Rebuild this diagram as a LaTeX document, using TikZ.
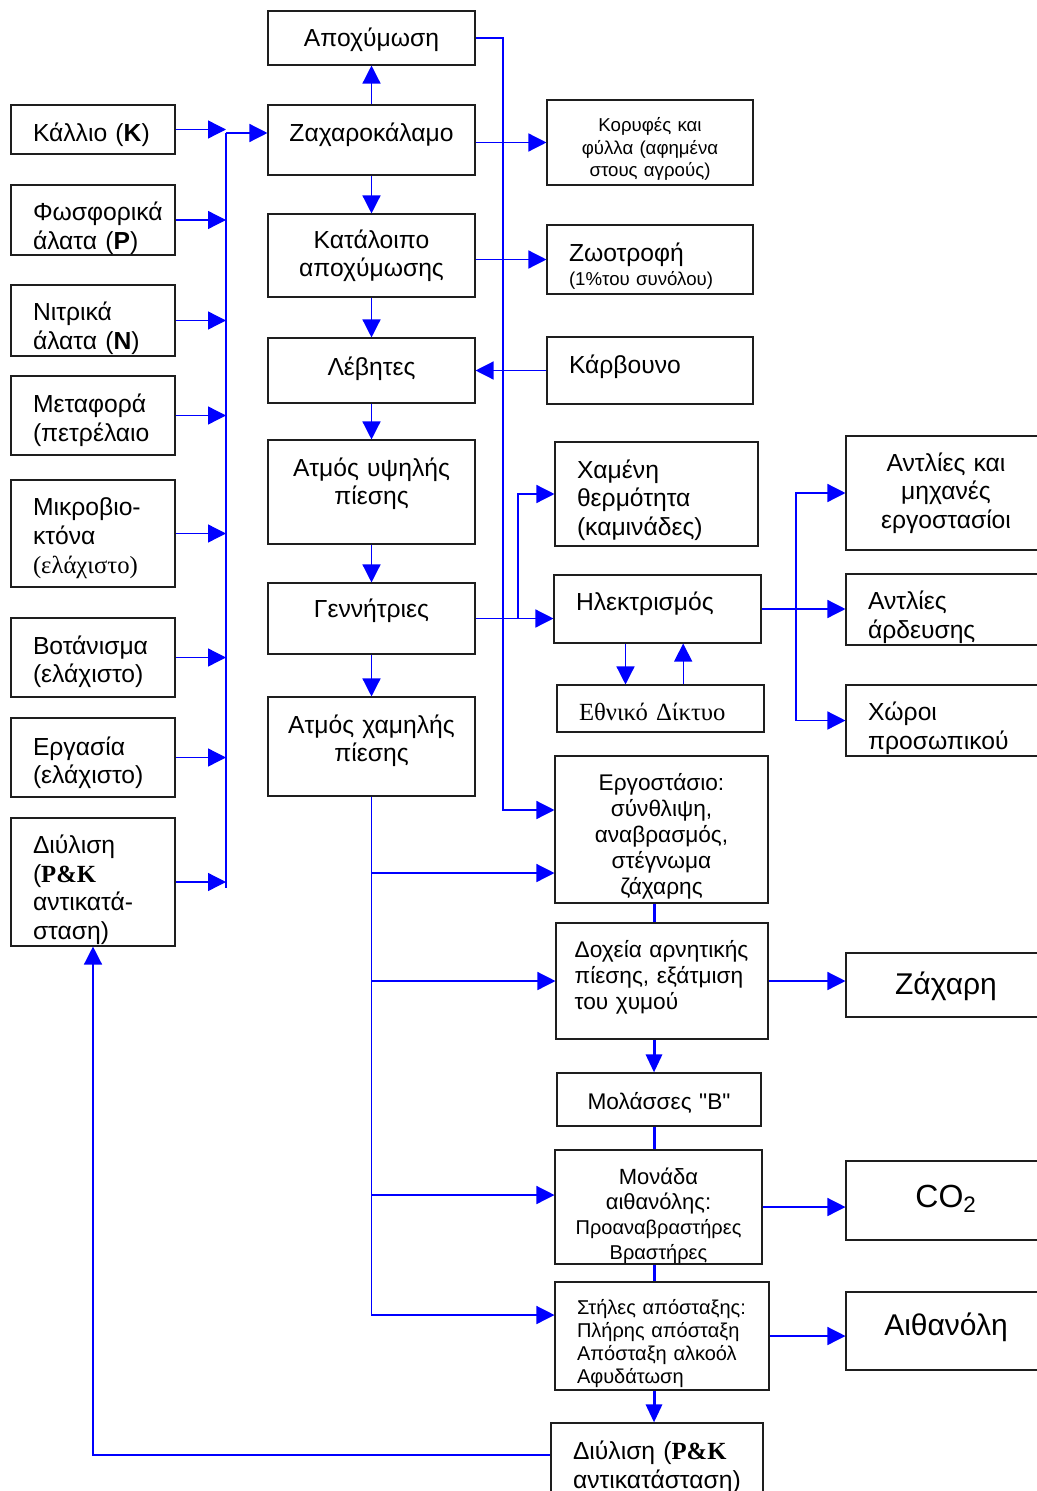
\documentclass[tikz,border=0pt]{standalone}
\usepackage{fontspec}
\setmainfont{Liberation Sans}[Ligatures=TeXOff]
\newfontfamily\tmsfont{Liberation Serif}
\usepackage{tikz}
\usetikzlibrary{arrows.meta, calc}
\definecolor{flowBlue}{RGB}{0, 0, 255}
\definecolor{boxEdge}{RGB}{30, 30, 30}
\newcommand{\fmain}{\fontsize{18.5}{21.5}\selectfont}
\newcommand{\fmid}{\fontsize{17}{19.5}\selectfont}
\newcommand{\fsmall}{\fontsize{15}{17.25}\selectfont}
\newcommand{\ftiny}{\fontsize{14}{17}\selectfont}
\newcommand{\fbig}{\fontsize{22.5}{26}\selectfont}

\begin{document}
\begin{tikzpicture}[x=0.75pt, y=-0.75pt,
    box/.style={draw=boxEdge, line width=0.8pt, inner ysep=2pt, font=\fmain},
    lbox/.style={box, align=left, inner xsep=16.5pt, minimum width=#1, text width=#1-33pt},
    cbox/.style={box, align=center, inner xsep=4pt, minimum width=#1, text width=#1-8pt},
    tdn/.style={text height=#1, text depth=0pt},
    tup/.style={text height=0pt, text depth=#1},
    wire/.style={flowBlue, line width=1pt},
    arr/.style={wire, -{Triangle[length=13.5pt, width=13.5pt]}},
    fat/.style={flowBlue, line width=2.25pt},
    fatarr/.style={fat, -{Triangle[length=13.5pt, width=12pt]}}]
    \useasboundingbox (0,0) rectangle (1036,1491);

    % Inputs (left column)
    \node[lbox=123pt, minimum height=36.75pt, tdn=18.75pt] (kallio) at (93,129.5) {Κάλλιο (\textbf{K})};
    \node[lbox=123pt, minimum height=52.5pt, tdn=1pt] (fosfor) at (93,220) {Φωσφορικά\\άλατα (\textbf{P})};
    \node[lbox=123pt, minimum height=53.25pt, tdn=0pt] (nitrika) at (93,320.5) {Νιτρικά\\άλατα (\textbf{N})};
    \node[lbox=123pt, minimum height=59.25pt, tup=4.2pt] (metafora) at (93,415.5) {Μεταφορά\\(πετρέλαιο};
    \node[lbox=123pt, minimum height=80.25pt, tup=26.7pt] (mikrob) at (93,533.5) {Μικροβιο-\\κτόνα\\{\tmsfont (ελάχιστο)}};
    \node[lbox=123pt, minimum height=59.25pt, tup=5.25pt] (votan) at (93,657.5) {Βοτάνισμα\\(ελάχιστο)};
    \node[lbox=123pt, minimum height=59.25pt, tup=3.75pt] (ergasia) at (93,757.5) {Εργασία\\(ελάχιστο)};
    \node[lbox=123pt, minimum height=96pt, tup=43pt] (diylL) at (93,882) {Διύλιση\\({\tmsfont\bfseries P\&K}\\αντικατά-\\σταση)};

    % Main line (middle column)
    \node[cbox=155.25pt, minimum height=40.5pt, tdn=13.5pt] (apox) at (371.5,38) {Αποχύμωση};
    \node[cbox=155.25pt, minimum height=52.5pt, tdn=3pt] (zax) at (371.5,140) {Ζαχαροκάλαμο};
    \node[cbox=155.25pt, minimum height=62.25pt, tup=10.8pt] (katal) at (371.5,255.5) {Κατάλοιπο\\αποχύμωσης};
    \node[cbox=155.25pt, minimum height=48.75pt, tdn=6.75pt] (levites) at (371.5,370.5) {Λέβητες};
    \node[cbox=155.25pt, minimum height=78pt, tup=24pt] (atmY) at (371.5,492) {Ατμός υψηλής\\πίεσης};
    \node[cbox=155.25pt, minimum height=53.25pt, tup=1.8pt] (genn) at (371.5,618.5) {Γεννήτριες};
    \node[cbox=155.25pt, minimum height=74.25pt, tup=19.8pt] (atmX) at (371.5,746.5) {Ατμός χαμηλής\\πίεσης};

    % By-products and energy
    \node[cbox=154.5pt, minimum height=63.75pt, font=\ftiny, tup=16.5pt] (koryfes) at (650,142.5) {Κορυφές και\\φύλλα (αφημένα\\στους αγρούς)};
    \node[lbox=154.5pt, minimum height=51.75pt, font=\fontsize{14}{18.5}\selectfont, tdn=2.25pt] (zootrofi) at (650,259.5) {{\fmain Ζωοτροφή}\\(1\%του συνόλου)};
    \node[lbox=154.5pt, minimum height=50.25pt, tdn=3.75pt] (karv) at (650,370.5) {Κάρβουνο};
    \node[lbox=152.25pt, minimum height=78pt, tup=24pt] (xamen) at (656.5,494) {Χαμένη\\θερμότητα\\(καμινάδες)};
    \node[lbox=155.25pt, minimum height=51pt, tdn=2.25pt] (ilektr) at (657.5,609) {Ηλεκτρισμός};
    \node[lbox=155.25pt, minimum height=35.25pt, font=\fmain\tmsfont, tdn=17.25pt] (ethniko) at (660.5,708.5) {Εθνικό Δίκτυο};

    % Sugar and ethanol line
    \node[cbox=159.75pt, minimum height=110.25pt, font=\fmid, tup=59.25pt] (ergost) at (661.5,829.5) {Εργοστάσιο:\\σύνθλιψη,\\αναβρασμός,\\στέγνωμα\\ζάχαρης};
    \node[lbox=159pt, inner xsep=14pt, text width=131pt, minimum height=87pt, font=\fmid, tup=36pt] (doxeia) at (662,981) {Δοχεία αρνητικής\\πίεσης, εξάτμιση\\του χυμού};
    \node[cbox=153pt, minimum height=39.75pt, font=\fmid, tdn=14.25pt] (molasses) at (659,1099.5) {Μολάσσες "B"};
    \node[cbox=155.25pt, minimum height=85.5pt, font=\fontsize{15}{18.75}\selectfont, tup=34.5pt] (monada) at (658.5,1207) {{\fontsize{16.5}{18.75}\selectfont Μονάδα\\αιθανόλης:}\\Προαναβραστήρες\\Βραστήρες};
    \node[lbox=160.5pt, minimum height=81pt, font=\fsmall, tup=32pt] (stiles) at (662,1336) {Στήλες απόσταξης:\\Πλήρης απόσταξη\\Απόσταξη αλκοόλ\\Αφυδάτωση};
    \node[lbox=159pt, minimum height=65.25pt, tup=10pt] (diylR) at (657,1466.5) {Διύλιση ({\tmsfont\bfseries P\&K}\\αντικατάσταση)};

    % Outputs (right column)
    \node[cbox=150pt, minimum height=85.5pt, tup=33pt] (antlMix) at (946,493) {Αντλίες και\\μηχανές\\εργοστασίοι};
    \node[lbox=150pt, minimum height=53.25pt, tdn=0pt] (antlArd) at (946,609.5) {Αντλίες\\άρδευσης};
    \node[lbox=150pt, minimum height=53.25pt, tdn=0pt] (xoroi) at (946,720.5) {Χώροι\\προσωπικού};
    \node[cbox=150pt, minimum height=48pt, font=\fbig, tdn=14.7pt] (zaxari) at (946,985) {Ζάχαρη};
    \node[cbox=150pt, minimum height=59.25pt, font=\fontsize{24}{28}\selectfont, tdn=10.5pt] (co2) at (946,1200.5) {CO\textsubscript{2}};
    \node[cbox=150pt, minimum height=58.5pt, font=\fbig, tdn=6pt] (ethanol) at (946,1331) {Αιθανόλη};

    % Bus and branch points
    \coordinate (busT) at (226,133);
    \coordinate (busB) at (226,888);
    \coordinate (pipeX) at (503,0);
    \coordinate (heatX) at (518,0);
    \coordinate (powX) at (796,0);
    \coordinate (chainX) at (654,0);

    % Inputs to cane
    \draw[wire] (busT) -- (busB);
    \foreach \src in {kallio, fosfor, nitrika, metafora, mikrob, votan, ergasia, diylL}
        \draw[arr] (\src.east) -- (\src.east -| busT);
    \draw[arr] (busT) -- (busT -| zax.west);

    % Main line arrows
    \draw[arr] (zax.north) -- (apox.south);
    \draw[arr] (zax.south) -- (katal.north);
    \draw[arr] (katal.south) -- (levites.north);
    \draw[arr] (levites.south) -- (atmY.north);
    \draw[arr] (atmY.south) -- (genn.north);
    \draw[arr] (genn.south) -- (atmX.north);

    % Side flows
    \draw[arr] (apox.east) -- (apox.east -| pipeX) |- ($(ergost.west)+(0,-19.5)$);
    \draw[arr] (zax.east |- koryfes) -- (koryfes.west);
    \draw[arr] (katal.east |- zootrofi) -- (zootrofi.west);
    \draw[arr] (karv.west) -- (levites.east);
    \draw[arr] (genn.east) -- (genn.east -| ilektr.west);
    \draw[arr] (genn.east -| heatX) |- (xamen.west);
    \draw[arr] ([xshift=-24pt]ilektr.south) -- ([xshift=-24pt]ilektr.south |- ethniko.north);
    \draw[arr] ([xshift=17pt]ethniko.north) -- ([xshift=17pt]ethniko.north |- ilektr.south);
    \draw[arr] (ilektr.east) -- (ilektr.east -| antlArd.west);
    \draw[arr] (ilektr.east -| powX) |- (antlMix.west);
    \draw[arr] (ilektr.east -| powX) |- (xoroi.west);

    % Low pressure steam
    \draw[arr] (atmX.south) |- ($(ergost.west)+(0,43.5)$);
    \draw[arr] (atmX.south) |- (doxeia.west);
    \draw[arr] (atmX.south) |- ($(monada.west)+(0,-12)$);
    \draw[arr] (atmX.south) |- ($(stiles.west)+(0,-21)$);

    % Process chain
    \draw[fat] (ergost.south -| chainX) -- (doxeia.north -| chainX);
    \draw[fatarr] (doxeia.south -| chainX) -- (molasses.north -| chainX);
    \draw[fat] (molasses.south -| chainX) -- (monada.north -| chainX);
    \draw[fat] (monada.south -| chainX) -- (stiles.north -| chainX);
    \draw[fatarr] (stiles.south -| chainX) -- (diylR.north -| chainX);

    % Products
    \draw[arr] (doxeia.east) -- (doxeia.east -| zaxari.west);
    \draw[arr] (monada.east) -- (monada.east -| co2.west);
    \draw[arr] (stiles.east) -- (stiles.east -| ethanol.west);

    % Return of filter mud
    \draw[arr] ($(diylR.west)+(0,-11.5)$) -| (diylL.south);
\end{tikzpicture}
\end{document}
